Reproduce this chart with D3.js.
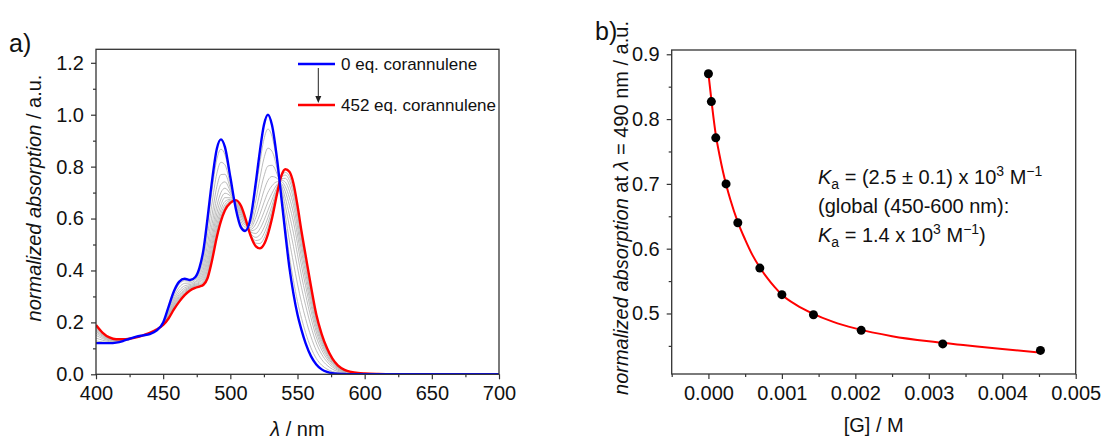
<!DOCTYPE html>
<html>
<head>
<meta charset="utf-8">
<script src="https://cdn.jsdelivr.net/npm/d3@7"></script>
<style>
  body { margin: 0; background: #fff; }
  svg { display: block; font-family: "Liberation Sans", Arial, sans-serif; }
  .tick text { font-size: 20px; fill: #111; }
  .axis line { stroke: #333; stroke-width: 1.2; }
  .axis path { display: none; }
</style>
</head>
<body>
<svg id="chart" width="1119" height="439"></svg>
<script>
// panel a) titration spectra
const wavelengths = [400, 405, 410, 415, 420, 425, 430, 435, 440, 445, 450, 454, 458, 462, 466, 470, 474, 477,
    480, 483, 486, 490, 493, 496, 500, 504, 508, 511, 515, 519, 522, 525, 528, 531, 535, 538, 541, 544, 547,
    550, 553, 556, 560, 564, 568, 572, 576, 580, 585, 590, 595, 600, 610, 620, 640, 670, 700];
const freeAbs = [0.12, 0.12, 0.12, 0.122, 0.128, 0.137, 0.145, 0.15, 0.155, 0.168, 0.2, 0.26, 0.32, 0.357, 0.368,
    0.363, 0.375, 0.41, 0.48, 0.6, 0.73, 0.87, 0.905, 0.875, 0.76, 0.64, 0.565, 0.552, 0.6, 0.74, 0.86, 0.96, 1.0,
    0.96, 0.82, 0.68, 0.54, 0.41, 0.31, 0.23, 0.17, 0.12, 0.07, 0.038, 0.019, 0.009, 0.004, 0.002, 0.001, 0,
    0, 0, 0, 0, 0, 0, 0];
const boundAbs = [0.19, 0.16, 0.142, 0.135, 0.135, 0.137, 0.142, 0.15, 0.16, 0.172, 0.19, 0.215, 0.25, 0.28, 0.305,
    0.323, 0.333, 0.338, 0.345, 0.37, 0.43, 0.53, 0.59, 0.632, 0.66, 0.671, 0.648, 0.605, 0.535, 0.493, 0.485, 0.5,
    0.54, 0.6, 0.7, 0.765, 0.79, 0.78, 0.735, 0.65, 0.55, 0.46, 0.34, 0.23, 0.155, 0.1, 0.06, 0.034, 0.017,
    0.009, 0.005, 0.003, 0.001, 0, 0, 0, 0];
// share of bound species in each intermediate (grey) spectrum
const grayMix = [0.12, 0.28, 0.43, 0.55, 0.65, 0.73, 0.8, 0.86, 0.91, 0.95];
const waveTicks = [400, 450, 500, 550, 600, 650, 700];
const waveMinor = [425, 475, 525, 575, 625, 675];
const absTicks = [0, 0.2, 0.4, 0.6, 0.8, 1.0, 1.2];
const absMinor = [0.1, 0.3, 0.5, 0.7, 0.9, 1.1];

// panel b) binding isotherm
const guestConc = [0, 0.00004, 0.0001, 0.00024, 0.0004, 0.0007, 0.001, 0.00143, 0.00208, 0.00319, 0.00452];
const normAbs490 = [0.87, 0.827, 0.771, 0.70, 0.64, 0.57, 0.529, 0.498, 0.474, 0.453, 0.443];
const fitConc = [0, 0.00005, 0.0001, 0.00015, 0.0002, 0.0003, 0.0004, 0.0005, 0.0006, 0.0007, 0.0008, 0.0009,
    0.001, 0.0012, 0.0014, 0.0017, 0.002, 0.0025, 0.003, 0.0035, 0.004, 0.0045];
const fitAbs = [0.87, 0.82, 0.776, 0.745, 0.718, 0.675, 0.641, 0.614, 0.59, 0.571, 0.555, 0.541, 0.529, 0.513,
    0.501, 0.487, 0.477, 0.465, 0.457, 0.451, 0.445, 0.44];
const concTicks = [0, 0.001, 0.002, 0.003, 0.004, 0.005];
const concMinor = [-0.0005, 0.0005, 0.0015, 0.0025, 0.0035, 0.0045];
const normTicks = [0.5, 0.6, 0.7, 0.8, 0.9];
const normMinor = [0.45, 0.55, 0.65, 0.75, 0.85];

const svg = d3.select('#chart');

const boxA = {left: 96, right: 499, top: 49.3, bottom: 374.3};
const boxB = {left: 671.7, right: 1075.7, top: 50, bottom: 374};

const xA = d3.scaleLinear().domain([400, 700]).range([boxA.left, boxA.right]);
const yA = d3.scaleLinear().domain([0, 1.252]).range([boxA.bottom, boxA.top]);
const xB = d3.scaleLinear().domain([-0.0005, 0.005]).range([boxB.left, boxB.right]);
const yB = d3.scaleLinear().domain([0.4066, 0.9066]).range([boxB.bottom, boxB.top]);

function drawAxes(box, x, y, xt, xm, yt, ym, xf, yf) {
    svg.append('g').attr('class', 'axis')
        .attr('transform', `translate(0,${box.bottom})`)
        .call(d3.axisBottom(x).tickValues(xt).tickSize(5).tickPadding(7).tickFormat(xf));
    svg.append('g').attr('class', 'axis')
        .attr('transform', `translate(0,${box.bottom})`)
        .call(d3.axisBottom(x).tickValues(xm).tickSize(3).tickFormat(''));
    svg.append('g').attr('class', 'axis')
        .attr('transform', `translate(${box.left},0)`)
        .call(d3.axisLeft(y).tickValues(yt).tickSize(5).tickPadding(7).tickFormat(yf));
    svg.append('g').attr('class', 'axis')
        .attr('transform', `translate(${box.left},0)`)
        .call(d3.axisLeft(y).tickValues(ym).tickSize(3).tickFormat(''));
    svg.append('rect')
        .attr('x', box.left).attr('y', box.top)
        .attr('width', box.right - box.left).attr('height', box.bottom - box.top)
        .attr('fill', 'none').attr('stroke', '#333').attr('stroke-width', 1.3);
}

// ---- panel a ----
svg.append('defs').append('clipPath').attr('id', 'clip-a')
    .append('rect')
    .attr('x', boxA.left).attr('y', boxA.top)
    .attr('width', boxA.right - boxA.left).attr('height', boxA.bottom - boxA.top);

const lineA = d3.line()
    .x(d => xA(d[0]))
    .y(d => yA(d[1]))
    .curve(d3.curveMonotoneX);

const gA = svg.append('g').attr('clip-path', 'url(#clip-a)');

gA.selectAll('.grey').data(grayMix)
    .enter().append('path')
        .attr('class', 'grey')
        .attr('d', f => lineA(wavelengths.map((w, i) => [w, (1 - f) * freeAbs[i] + f * boundAbs[i]])))
        .attr('fill', 'none')
        .attr('stroke', '#b4b4b4')
        .attr('stroke-width', 0.9);

gA.append('path')
    .attr('d', lineA(wavelengths.map((w, i) => [w, boundAbs[i]])))
    .attr('fill', 'none').attr('stroke', '#ff0000').attr('stroke-width', 2.4);

gA.append('path')
    .attr('d', lineA(wavelengths.map((w, i) => [w, freeAbs[i]])))
    .attr('fill', 'none').attr('stroke', '#0000ff').attr('stroke-width', 2.4);

drawAxes(boxA, xA, yA, waveTicks, waveMinor, absTicks, absMinor, d3.format('d'), d3.format('.1f'));

// legend
const legend = svg.append('g').style('font-size', '17px');
legend.append('line').attr('x1', 298).attr('x2', 335).attr('y1', 64).attr('y2', 64)
    .attr('stroke', '#0000ff').attr('stroke-width', 2.4);
legend.append('line').attr('x1', 298).attr('x2', 335).attr('y1', 105).attr('y2', 105)
    .attr('stroke', '#ff0000').attr('stroke-width', 2.4);
legend.append('line').attr('x1', 318.3).attr('x2', 318.3).attr('y1', 68).attr('y2', 97)
    .attr('stroke', '#222').attr('stroke-width', 1);
legend.append('path').attr('d', 'M315.3,96 L321.3,96 L318.3,103 Z').attr('fill', '#222');
legend.append('text').attr('x', 341).attr('y', 70).attr('fill', '#111').text('0 eq. corannulene');
legend.append('text').attr('x', 341).attr('y', 111).attr('fill', '#111').text('452 eq. corannulene');

// axis titles a
svg.append('text')
    .attr('x', 297.5).attr('y', 436)
    .attr('text-anchor', 'middle')
    .style('font-size', '20px').attr('fill', '#111')
    .call(t => {
        t.append('tspan').style('font-style', 'italic').text('λ');
        t.append('tspan').text(' / nm');
    });

svg.append('text')
    .attr('transform', 'translate(41,198) rotate(-90)')
    .attr('text-anchor', 'middle')
    .style('font-size', '20px').attr('fill', '#111')
    .call(t => {
        t.append('tspan').style('font-style', 'italic').text('normalized absorption');
        t.append('tspan').text(' / a.u.');
    });

svg.append('text').attr('x', 9).attr('y', 52)
    .style('font-size', '25px').attr('fill', '#111').text('a)');

// ---- panel b ----
const lineB = d3.line()
    .x(d => xB(d[0]))
    .y(d => yB(d[1]))
    .curve(d3.curveMonotoneX);

svg.append('path')
    .attr('d', lineB(fitConc.map((c, i) => [c, fitAbs[i]])))
    .attr('fill', 'none').attr('stroke', '#ff0000').attr('stroke-width', 2);

svg.selectAll('.dot').data(guestConc)
    .enter().append('circle')
        .attr('class', 'dot')
        .attr('cx', d => xB(d))
        .attr('cy', (d, i) => yB(normAbs490[i]))
        .attr('r', 4.5)
        .attr('fill', '#000');

drawAxes(boxB, xB, yB, concTicks, concMinor, normTicks, normMinor, d3.format('.3f'), d3.format('.1f'));

svg.append('text')
    .attr('x', 873.7).attr('y', 432)
    .attr('text-anchor', 'middle')
    .style('font-size', '20px').attr('fill', '#111')
    .text('[G] / M');

svg.append('text')
    .attr('transform', 'translate(628,208) rotate(-90)')
    .attr('text-anchor', 'middle')
    .style('font-size', '20px').attr('fill', '#111')
    .call(t => {
        t.append('tspan').style('font-style', 'italic').text('normalized absorption');
        t.append('tspan').text(' at ');
        t.append('tspan').style('font-style', 'italic').text('λ');
        t.append('tspan').text(' = 490 nm / a.u.');
    });

svg.append('text').attr('x', 595).attr('y', 40)
    .style('font-size', '25px').attr('fill', '#111').text('b)');

// annotation
const note = svg.append('g').style('font-size', '20px').attr('fill', '#111');

function ka(t) {
    t.append('tspan').style('font-style', 'italic').text('K');
    t.append('tspan').attr('dy', 5).style('font-size', '14px').text('a');
}
function sup(t, s) {
    t.append('tspan').attr('dy', -8).style('font-size', '14px').text(s);
}

note.append('text').attr('x', 818).attr('y', 183.5).call(t => {
    ka(t);
    t.append('tspan').attr('dy', -5).text(' = (2.5 ± 0.1) x 10');
    sup(t, '3');
    t.append('tspan').attr('dy', 8).text(' M');
    sup(t, '−1');
});
note.append('text').attr('x', 818).attr('y', 213).text('(global (450-600 nm):');
note.append('text').attr('x', 818).attr('y', 242).call(t => {
    ka(t);
    t.append('tspan').attr('dy', -5).text(' = 1.4 x 10');
    sup(t, '3');
    t.append('tspan').attr('dy', 8).text(' M');
    sup(t, '−1');
    t.append('tspan').attr('dy', 8).text(')');
});
</script>
</body>
</html>
